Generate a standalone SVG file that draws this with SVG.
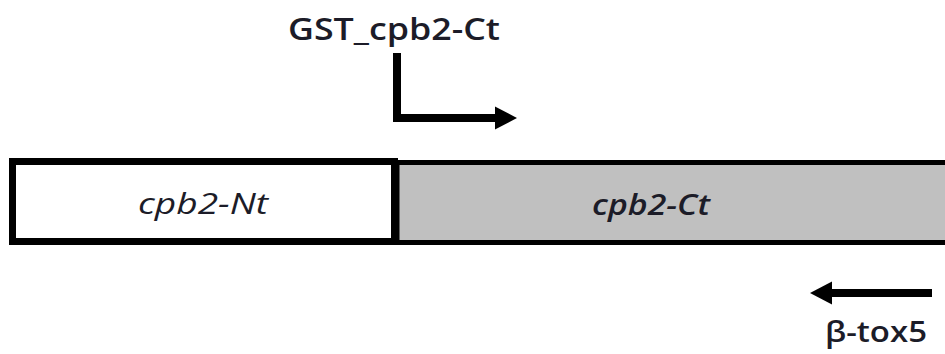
<svg xmlns="http://www.w3.org/2000/svg" width="945" height="354" viewBox="0 0 945 354">
  <style>
    .lbl { font-family: "Open Sans", "Liberation Sans", sans-serif; fill: #1c1c28; }
    .conn { fill: none; stroke: #000; stroke-width: 8; stroke-linecap: butt; stroke-linejoin: miter; }
  </style>
  <defs>
    <marker id="head" viewBox="0 -12 22 24" refX="0" refY="0" markerWidth="22" markerHeight="24" markerUnits="userSpaceOnUse" orient="auto">
      <path d="M0,-11.5 L22,0 L0,11.5 Z" fill="#000"/>
    </marker>
  </defs>
  <rect width="945" height="354" fill="#fff"/>

  <g id="node-ct">
    <rect x="397" y="162.5" width="560" height="80" fill="#c0c0c0" stroke="#000" stroke-width="5"/>
    <text class="lbl" x="651" y="215" text-anchor="middle" font-size="29" font-style="italic" font-weight="600" textLength="118" lengthAdjust="spacingAndGlyphs">cpb2-Ct</text>
  </g>

  <g id="node-nt">
    <rect x="12.5" y="161.5" width="382" height="80" fill="#fff" stroke="#000" stroke-width="7"/>
    <text class="lbl" x="203" y="214" text-anchor="middle" font-size="29" font-style="italic" textLength="130" lengthAdjust="spacingAndGlyphs">cpb2-Nt</text>
  </g>

  <g id="label-gst">
    <text class="lbl" x="288" y="40" font-size="30" font-weight="600" textLength="212" lengthAdjust="spacingAndGlyphs">GST_cpb2-Ct</text>
  </g>

  <g id="label-btox">
    <text class="lbl" x="825" y="342" font-size="29" font-weight="600" textLength="102" lengthAdjust="spacingAndGlyphs">β-tox5</text>
  </g>

  <g id="connectors">
    <path class="conn" d="M397,53 V118 H495" marker-end="url(#head)"/>
    <path class="conn" d="M932,293 H832" marker-end="url(#head)"/>
  </g>
</svg>
